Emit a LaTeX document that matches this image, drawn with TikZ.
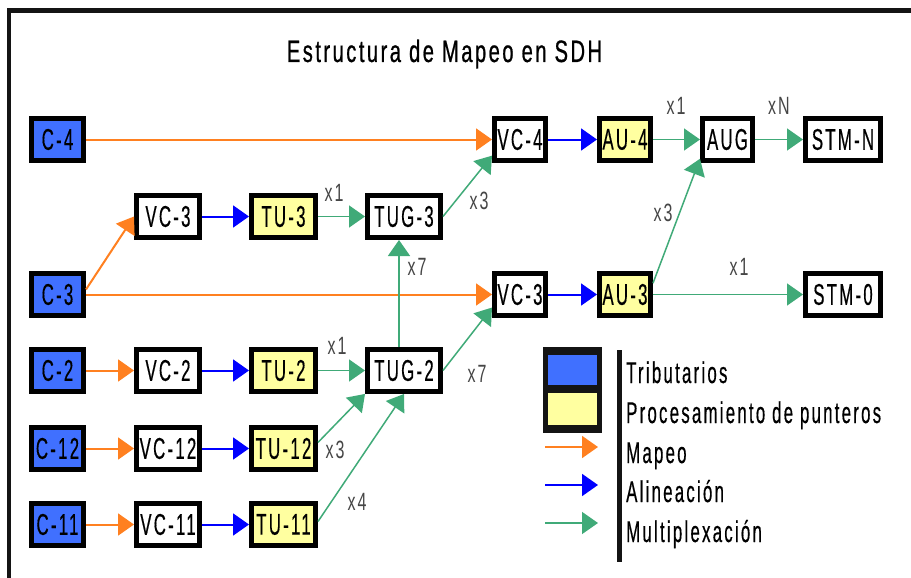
\documentclass[tikz,border=0pt]{standalone}
\usepackage{fontspec}
\setmainfont{Liberation Sans}
\newfontfamily\nf[FakeStretch=0.56,LetterSpace=7.5,FakeBold=0.4]{Liberation Sans}
\newfontfamily\tf[FakeStretch=0.65,LetterSpace=8,FakeBold=0.7]{Liberation Sans}
\newfontfamily\lf[FakeStretch=0.64,LetterSpace=8]{Liberation Sans}
\usetikzlibrary{arrows.meta,calc}
\definecolor{tribblue}{RGB}{64,112,255}
\definecolor{ptryellow}{RGB}{255,255,160}
\definecolor{mapor}{RGB}{255,128,32}
\definecolor{aliblue}{RGB}{0,0,255}
\definecolor{muxgreen}{RGB}{64,170,120}
\definecolor{labgray}{RGB}{70,70,70}
\tikzset{
  box/.style={draw=black, line width=5pt, minimum height=42pt, inner sep=0pt,
    font=\nf\fontsize{30}{30}\selectfont, text=black},
  trib/.style={box, fill=tribblue},
  ptr/.style={box, fill=ptryellow},
  plainbox/.style={box, fill=white},
  tip/.style={-{Triangle[length=16pt,width=22pt]}},
  map/.style={draw=mapor, line width=2pt, tip, mapor},
  ali/.style={draw=aliblue, line width=2pt, tip, aliblue},
  mux/.style={draw=muxgreen, line width=1.5pt, tip, muxgreen},
  lab/.style={text=labgray, font=\lf\fontsize{25}{25}\selectfont, inner sep=0pt},
  leg/.style={anchor=base west, inner sep=0pt, font=\nf\fontsize{30}{30}\selectfont}
}
\begin{document}
\begin{tikzpicture}[x=1pt,y=-1pt]
\useasboundingbox (0,0) rectangle (911,578);
\fill[white] (0,0) rectangle (911,578);
% frame
\draw[line width=4.5pt, black!92] (911,10.5) -- (9,10.5) -- (9,578);
% title
\node[font=\tf\fontsize{31}{31}\selectfont, anchor=base, inner sep=0pt] (title) at (444.5,62) {Estructura de Mapeo en SDH};

% tributaries
\node[trib, minimum width=52pt] (C4) at (57.5,139.5) {C-4};
\node[trib, minimum width=52pt] (C3) at (57.5,294.5) {C-3};
\node[trib, minimum width=52pt] (C2) at (57.5,370.5) {C-2};
\node[trib, minimum width=52pt] (C12) at (57.5,448.5) {C-12};
\node[trib, minimum width=52pt] (C11) at (57.5,524.5) {C-11};
% VC lower order
\node[plainbox, minimum width=63pt] (VC3a) at (168,216.5) {VC-3};
\node[plainbox, minimum width=63pt] (VC2) at (168,370.5) {VC-2};
\node[plainbox, minimum width=63pt] (VC12) at (168,448.5) {VC-12};
\node[plainbox, minimum width=63pt] (VC11) at (168,524.5) {VC-11};
% TU
\node[ptr, minimum width=64pt] (TU3) at (283.5,216.5) {TU-3};
\node[ptr, minimum width=64pt] (TU2) at (283.5,370.5) {TU-2};
\node[ptr, minimum width=64pt] (TU12) at (283.5,448.5) {TU-12};
\node[ptr, minimum width=64pt] (TU11) at (283.5,524.5) {TU-11};
% TUG
\node[plainbox, minimum width=73pt] (TUG3) at (404,216.5) {TUG-3};
\node[plainbox, minimum width=73pt] (TUG2) at (404,370.5) {TUG-2};
% higher order
\node[plainbox, minimum width=51pt] (VC4) at (520,139.5) {VC-4};
\node[plainbox, minimum width=51pt] (VC3b) at (520,294.5) {VC-3};
\node[ptr, minimum width=51pt] (AU4) at (625,139.5) {AU-4};
\node[ptr, minimum width=51pt] (AU3) at (625,294.5) {AU-3};
\node[plainbox, minimum width=50pt] (AUG) at (727.5,139.5) {AUG};
\node[plainbox, minimum width=75pt] (STMN) at (843,139.5) {STM-N};
\node[plainbox, minimum width=75pt] (STM0) at (843,294.5) {STM-0};

% mapping
\draw[map] (C4) -- (VC4);
\draw[map] (C3.10) -- (VC3a.west);
\draw[map] (C3) -- (VC3b);
\draw[map] (C2) -- (VC2);
\draw[map] (C12) -- (VC12);
\draw[map] (C11) -- (VC11);
% alignment
\draw[ali] (VC3a) -- (TU3);
\draw[ali] (VC2) -- (TU2);
\draw[ali] (VC12) -- (TU12);
\draw[ali] (VC11) -- (TU11);
\draw[ali] (VC4) -- (AU4);
\draw[ali] (VC3b) -- (AU3);
% multiplexing
\draw[mux] (TU3) -- (TUG3);
\draw[mux] (TU2) -- (TUG2);
\draw[mux] (TU12.10) -- (TUG2.211);
\draw[mux] (TU11.5) -- (TUG2.south);
\draw[mux] ([xshift=-5pt]TUG2.north) -- ([xshift=-5pt]TUG3.south);
\draw[mux] (TUG3.east) -- (VC4.210);
\draw[mux] (TUG2.east) -- (VC3b.205);
\draw[mux] (AU4) -- (AUG);
\draw[mux] (AU3.22) -- (AUG.215);
\draw[mux] (AUG) -- (STMN);
\draw[mux] (AU3) -- (STM0);

% multiplicity labels
\node[lab] (l1) at (334,193) {x1};
\node[lab] (l2) at (479,201) {x3};
\node[lab] (l3) at (417,267) {x7};
\node[lab] (l4) at (337,346) {x1};
\node[lab] (l5) at (477,374) {x7};
\node[lab] (l6) at (335,450) {x3};
\node[lab] (l7) at (357,502) {x4};
\node[lab] (l8) at (676,106) {x1};
\node[lab] (l9) at (779,106) {xN};
\node[lab] (l10) at (663,213) {x3};
\node[lab] (l11) at (739,267) {x1};

% legend
\fill[black!92] (543,347) rectangle (602,433);
\fill[tribblue] (548,355) rectangle (597,385);
\fill[ptryellow] (548,393) rectangle (597,425);
\coordinate (m0) at (545,447); \coordinate (m1) at (598,447);
\coordinate (a0) at (545,485); \coordinate (a1) at (598,485);
\coordinate (g0) at (545,523); \coordinate (g1) at (598,523);
\draw[map] (m0) -- (m1);
\draw[ali] (a0) -- (a1);
\draw[mux] (g0) -- (g1);
\draw[line width=5pt, black!92] (619.5,350) -- (619.5,562);
\node[leg] (t1) at (626,383) {Tributarios};
\node[leg] (t2) at (626,423) {Procesamiento de punteros};
\node[leg] (t3) at (626,463) {Mapeo};
\node[leg] (t4) at (626,502) {Alineación};
\node[leg] (t5) at (626,542) {Multiplexación};
\end{tikzpicture}
\end{document}
